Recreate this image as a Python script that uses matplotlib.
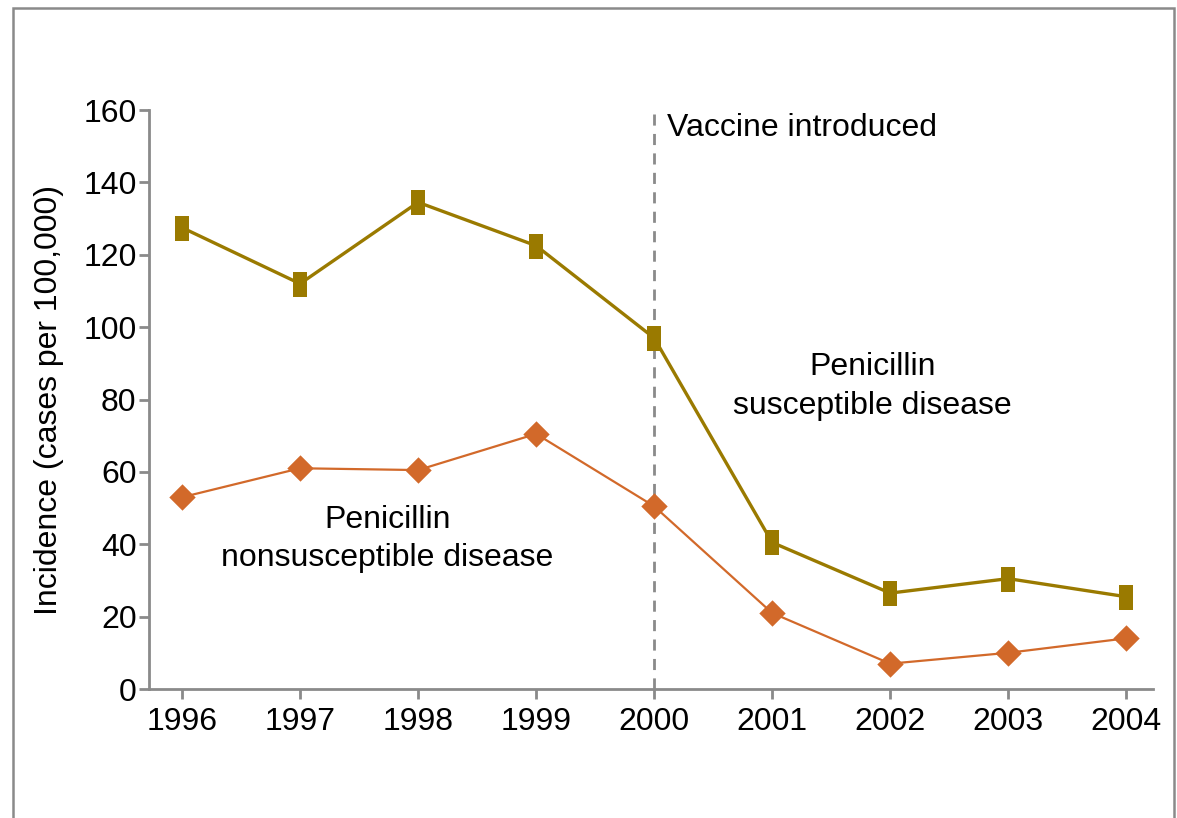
import numpy as np
import matplotlib.pyplot as plt
from matplotlib.path import Path
from matplotlib.patches import Rectangle

plt.rcParams['font.family'] = ['Liberation Sans', 'DejaVu Sans']

# ____Data_________________________
years = [1996, 1997, 1998, 1999, 2000, 2001, 2002, 2003, 2004]
susceptible = [127.5, 112, 134.5, 122.5, 97, 40.5, 26.5, 30.5, 25.5]
nonsusceptible = [53, 61, 60.5, 70.5, 50.5, 21, 7, 10, 14]
yticks = [0, 20, 40, 60, 80, 100, 120, 140, 160]

gold = '#9A7A00'
orange = '#D2692A'
grey = '#8a8a8a'

# custom markers: tall rectangle and diamond
rect_marker = Path([(-0.56, -1), (0.56, -1), (0.56, 1), (-0.56, 1), (-0.56, -1)],
                   [Path.MOVETO, Path.LINETO, Path.LINETO, Path.LINETO, Path.CLOSEPOLY])
diamond_marker = Path([(0, -1), (1, 0), (0, 1), (-1, 0), (0, -1)],
                      [Path.MOVETO, Path.LINETO, Path.LINETO, Path.LINETO, Path.CLOSEPOLY])

fig = plt.figure(figsize=(11.77, 8.18), dpi=100)
ax = fig.add_axes([0.1266, 0.1577, 0.9794 - 0.1266, 0.8655 - 0.1577])

# outer frame (open at the bottom)
fig.patches.append(Rectangle((13 / 1177, -0.05), (1174 - 13) / 1177, 1.05 - 8 / 818,
                             transform=fig.transFigure, fill=False,
                             edgecolor=grey, linewidth=1.8))

ax.plot(years, susceptible, color=gold, linewidth=2.4, marker=rect_marker,
        markersize=18, markeredgewidth=0, markerfacecolor=gold, zorder=3)
ax.plot(years, nonsusceptible, color=orange, linewidth=1.6, marker=diamond_marker,
        markersize=19, markeredgewidth=0, markerfacecolor=orange, zorder=3)

ax.axvline(2000, color=grey, linewidth=2, linestyle=(0, (4, 3)), zorder=2)

ax.set_xlim(1995.72, 2004.225)
ax.set_ylim(0, 160)
ax.set_xticks(years)
ax.set_yticks(yticks)

for s in ['top', 'right']:
    ax.spines[s].set_visible(False)
for s in ['left', 'bottom']:
    ax.spines[s].set_color(grey)
    ax.spines[s].set_linewidth(2)
ax.tick_params(axis='both', colors=grey, width=2, length=7, labelcolor='black',
               labelsize=23)
ax.tick_params(axis='y', pad=2)
ax.tick_params(axis='x', pad=6)

ax.set_ylabel('Incidence (cases per 100,000)', fontsize=23, labelpad=14)

ax.text(2000.11, 155, 'Vaccine introduced', fontsize=23, va='center', ha='left')
ax.text(2001.85, 83.6, 'Penicillin\nsusceptible disease', fontsize=23, ha='center',
        va='center', linespacing=1.35)
ax.text(1997.74, 41.4, 'Penicillin\nnonsusceptible disease', fontsize=23, ha='center',
        va='center', linespacing=1.35)

fig.savefig('out.png', dpi=100)
plt.close()
